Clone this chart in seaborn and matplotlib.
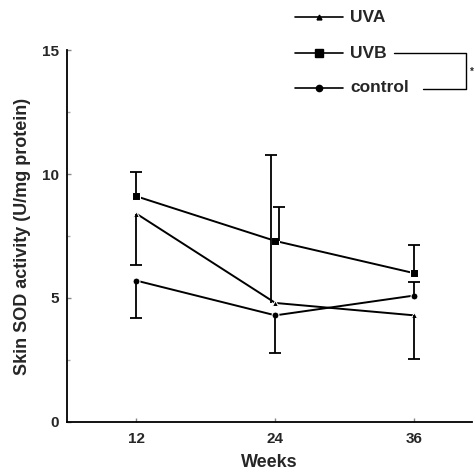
import matplotlib
matplotlib.use("Agg")
import matplotlib.pyplot as plt
from matplotlib.lines import Line2D
import seaborn as sns
import pandas as pd
import numpy as np

weeks = [12, 24, 36]
groups = ["UVA", "UVB", "control"]
uva_mean = [8.4, 4.8, 4.3]
uvb_mean = [9.1, 7.3, 6.0]
ctrl_mean = [5.7, 4.3, 5.1]
uva_err = [2.05, 5.95, 1.78]      # one-sided
uvb_err = [1.0, 1.35, 1.13]
ctrl_err = [1.52, 1.52, 0.55]
uva_dir = [-1, 1, -1]             # -1 = lower bar, +1 = upper bar
uvb_dir = [1, 1, 1]
ctrl_dir = [-1, -1, 1]
yticks = [0, 5, 10, 15]

sns.set_theme(style="ticks")
plt.rcParams['font.family'] = ['Liberation Sans', 'DejaVu Sans']
plt.rcParams['font.weight'] = 'bold'

df = pd.DataFrame({
    "week": weeks * 3,
    "value": uva_mean + uvb_mean + ctrl_mean,
    "group": [g for g in groups for _ in weeks],
})

fig = plt.figure(figsize=(4.75, 4.75), dpi=100)
ax = fig.add_axes([0.141, 0.1116, 0.853, 0.7831])

markers = {"UVA": "^", "UVB": "s", "control": "o"}
msize = {"UVA": 4, "UVB": 6, "control": 5}
sns.lineplot(data=df, x="week", y="value", style="group", markers=markers,
             dashes=False, color="black", linewidth=1.4, markersize=5,
             legend=False, ax=ax)
for line, g in zip(ax.get_lines(), groups):
    line.set_markersize(msize[g])

offs = {"UVA": -0.4, "UVB": 0.35, "control": 0.0}
for g, m, e, d in [("UVA", uva_mean, uva_err, uva_dir),
                   ("UVB", uvb_mean, uvb_err, uvb_dir),
                   ("control", ctrl_mean, ctrl_err, ctrl_dir)]:
    m = np.array(m); e = np.array(e); d = np.array(d)
    xs = np.array(weeks, dtype=float)
    xs[1] += offs[g]
    ends = m + d * e
    ax.vlines(xs, m, ends, color="black", lw=1.3)
    ax.plot(xs, ends, linestyle="none", marker="_", markersize=8,
            markeredgewidth=1.3, color="black")

ax.set_xlim(6, 41)
ax.set_ylim(0, 15)
ax.set_xticks(weeks)
ax.set_yticks(yticks)
ax.set_yticks([2.5, 7.5, 12.5], minor=True)
ax.tick_params(direction="in", length=3, width=1, labelsize=11, color="#888888")
ax.tick_params(which="minor", direction="in", length=2, color="#aaaaaa")
for lab in ax.get_xticklabels() + ax.get_yticklabels():
    lab.set_fontweight("bold")
ax.tick_params(axis="x", pad=7)
ax.tick_params(axis="y", pad=6)
sns.despine(ax=ax)
ax.spines["left"].set_linewidth(1.3)
ax.spines["bottom"].set_linewidth(1.3)
ax.spines["left"].set_color("black")
ax.spines["bottom"].set_color("black")
ax.set_xlabel("Weeks", fontsize=13, fontweight="bold", labelpad=6)
ax.set_ylabel("Skin SOD activity (U/mg protein)", fontsize=13,
              fontweight="bold", labelpad=8)

# manual legend
W = H = 475.0
def fx(px): return px / W
def fy(py): return 1 - py / H
leg_y = [17, 53, 88]
for g, yy in zip(groups, leg_y):
    fig.add_artist(Line2D([fx(295), fx(343)], [fy(yy), fy(yy)], color="black",
                          lw=1.2, transform=fig.transFigure))
    fig.add_artist(Line2D([fx(319)], [fy(yy)], marker=markers[g], color="black",
                          markersize=msize[g] - 0.5, transform=fig.transFigure))
    fig.text(fx(350), fy(yy), g, fontsize=12.5, fontweight="bold", va="center",
             ha="left")
# bracket
fig.add_artist(Line2D([fx(394), fx(466), fx(466), fx(423)],
                      [fy(53), fy(53), fy(89), fy(89)], color="black", lw=1,
                      transform=fig.transFigure))
fig.text(fx(470), fy(72), "*", fontsize=7, va="center", ha="left")

fig.savefig("out.png", dpi=100)
